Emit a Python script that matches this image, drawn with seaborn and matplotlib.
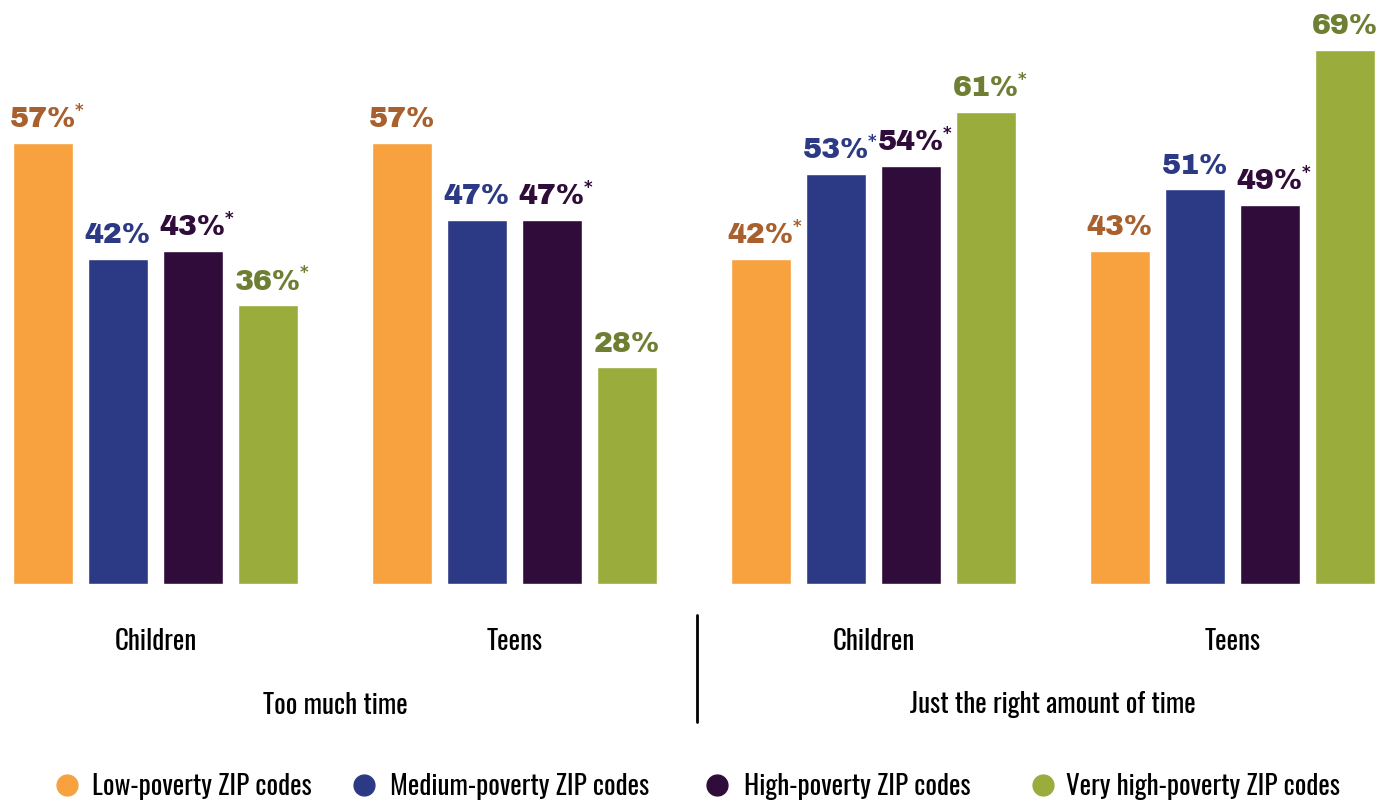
import matplotlib
matplotlib.use("Agg")
import matplotlib.pyplot as plt
from matplotlib.lines import Line2D
from matplotlib.transforms import blended_transform_factory
import seaborn as sns
import pandas as pd

# Data
panels = ["Too much time", "Just the right amount of time"]
ages = ["Children", "Teens"]
zip_levels = ["Low-poverty ZIP codes", "Medium-poverty ZIP codes",
              "High-poverty ZIP codes", "Very high-poverty ZIP codes"]
low_poverty = [57, 57, 42, 43]
medium_poverty = [42, 47, 53, 51]
high_poverty = [43, 47, 54, 49]
very_high_poverty = [36, 28, 61, 69]
low_star = [True, False, True, False]
medium_star = [False, False, True, False]
high_star = [True, True, True, True]
very_high_star = [True, False, True, False]

bar_colors = ["#F7A23F", "#2C3A86", "#2F0C39", "#9AAC3B"]
label_colors = ["#A8602E", "#2C3A86", "#2F0C39", "#6E7F33"]

group_keys = [f"{p}|{a}" for p in panels for a in ages]
series = [low_poverty, medium_poverty, high_poverty, very_high_poverty]
stars = [low_star, medium_star, high_star, very_high_star]

rows = []
for lvl, vals in zip(zip_levels, series):
    for g, v in zip(group_keys, vals):
        rows.append({"group": g, "zip": lvl, "value": v})
df = pd.DataFrame(rows)

sns.set_theme(style="white")
plt.rcParams["font.family"] = ["DejaVu Sans"]
narrow = ["Oswald", "League Gothic", "DejaVu Sans"]
wide = ["Archivo Black", "DejaVu Sans"]

W, H = 1395, 802
fig = plt.figure(figsize=(W / 100, H / 100), dpi=100)
base_px = 584
ax = fig.add_axes([0, 1 - base_px / H, 1, base_px / H])

sns.barplot(data=df, x="group", y="value", hue="zip", order=group_keys,
            hue_order=zip_levels, palette=bar_colors, saturation=1,
            width=300 / 359, gap=0.2, legend=False, ax=ax)

ax.set_xlim(-155.5 / 359, (W - 155.5) / 359)
ax.set_ylim(0, base_px / 7.74)
ax.axis("off")

# Value labels with significance asterisks
for ci, cont in enumerate(ax.containers):
    for bi, bar in enumerate(cont):
        v = series[ci][bi]
        cx = bar.get_x() + bar.get_width() / 2
        t = ax.annotate(f"{v}%", xy=(cx, v), xytext=(0, 7),
                        textcoords="offset points", ha="center", va="bottom",
                        fontsize=20.5, fontweight="black", family=wide,
                        color=label_colors[ci])
        if stars[ci][bi]:
            ax.annotate("*", xy=(1, 1), xycoords=t, xytext=(-1, 3),
                        textcoords="offset points", ha="left", va="top",
                        fontsize=12, fontweight="bold", color=label_colors[ci])

xf = blended_transform_factory(ax.transData, fig.transFigure)

# Age labels under each group
for gi, g in enumerate(group_keys):
    ax.text(gi, 1 - 642 / H, g.split("|")[1], transform=xf, ha="center",
            va="center", fontsize=19.5, fontweight="bold", family=narrow,
            color="black", clip_on=False)

# Panel titles
for pi, p in enumerate(panels):
    ax.text(2 * pi + 0.5, 1 - 705 / H, p, transform=xf, ha="center",
            va="center", fontsize=19.5, fontweight="bold", family=narrow,
            color="black", clip_on=False)

# Divider between panels
fig.add_artist(Line2D([697 / W, 697 / W], [1 - 615 / H, 1 - 722 / H],
                      transform=fig.transFigure, color="black", lw=2))

# Legend row
marker_x = [67, 364, 717, 1043]
text_x = [92, 390, 744, 1066]
ly = 1 - 787 / H
for mx, tx, col, lab in zip(marker_x, text_x, bar_colors, zip_levels):
    fig.add_artist(Line2D([mx / W], [1 - 785 / H], transform=fig.transFigure,
                          marker="o", markersize=15, color=col, lw=0))
    fig.text(tx / W, ly, lab, ha="left", va="center", fontsize=19.5,
             fontweight="bold", family=narrow, color="black")

fig.savefig("out.png", dpi=100, facecolor="white")
